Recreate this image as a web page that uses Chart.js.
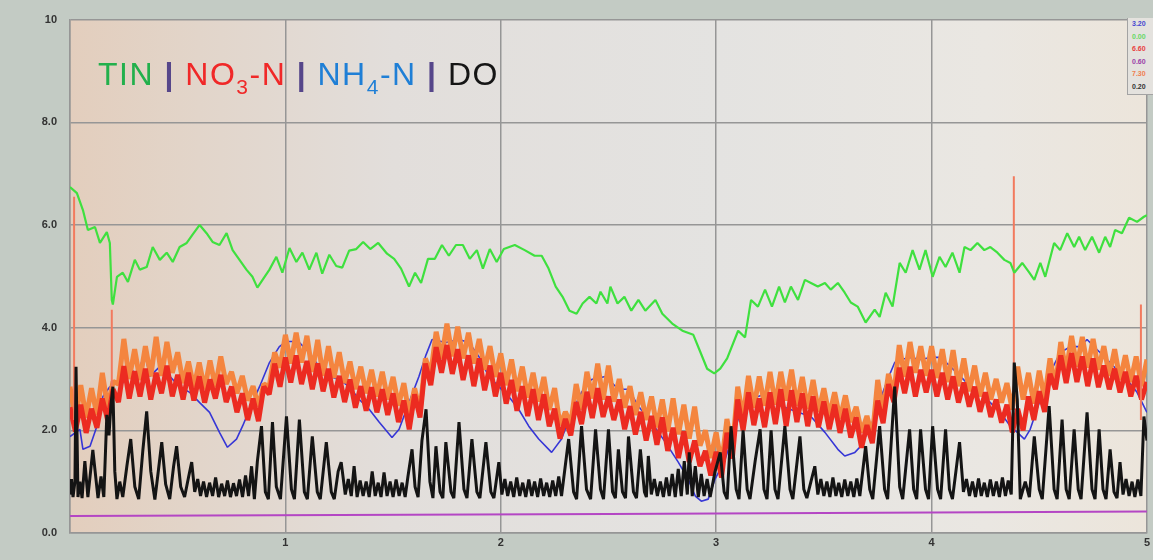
<!DOCTYPE html>
<html>
<head>
<meta charset="utf-8">
<script src="https://cdn.jsdelivr.net/npm/chart.js@4.4.1/dist/chart.umd.min.js"></script>
<style>
html,body{margin:0;padding:0;background:#c3cbc4;}
#wrap{position:relative;width:1153px;height:560px;overflow:hidden;background:#c3cbc4;}
#c{position:absolute;left:0;top:0;}
#title{position:absolute;left:98px;top:54px;font-family:"Liberation Sans",Arial,sans-serif;font-size:32px;line-height:40px;letter-spacing:1.5px;white-space:nowrap;}
#title sub{font-size:21px;vertical-align:baseline;position:relative;top:9px;}
#title .sep{color:#56468a;font-weight:bold;}
#vals{position:absolute;left:1127px;top:18px;width:26px;height:77px;border-left:1px solid #a3a3a3;border-bottom:1px solid #a3a3a3;background:#e4e2de;font-family:"Liberation Sans",Arial,sans-serif;font-weight:bold;font-size:7px;line-height:12.6px;padding-left:4px;box-sizing:border-box;}
</style>
</head>
<body>
<div id="wrap">
<canvas id="c" width="1153" height="560"></canvas>
<div id="title"><span style="color:#22b04c">TIN</span> <span class="sep">|</span> <span style="color:#f02828">NO<sub>3</sub>-N</span> <span class="sep">|</span> <span style="color:#1f7fd6">NH<sub>4</sub>-N</span> <span class="sep">|</span> <span style="color:#151515">DO</span></div>
<div id="vals">
<div style="color:#4646d0">3.20</div>
<div style="color:#66d866">0.00</div>
<div style="color:#e84040">6.60</div>
<div style="color:#9a40a8">0.60</div>
<div style="color:#f08050">7.30</div>
<div style="color:#333">0.20</div>
</div>
</div>
<script>
// ---------- DATA ----------
const xTicks = [1, 2, 3, 4, 5];
const yTicks = [0, 2, 4, 6, 8, 10];

// TIN (green)
const tinX = [
0.000,0.032,0.060,0.083,0.116,0.139,0.171,0.185,0.194,0.199,
0.218,0.245,0.269,0.301,0.324,0.356,0.384,0.417,0.449,0.477,
0.509,0.542,0.569,0.602,0.634,0.662,0.694,0.727,0.755,0.787,
0.819,0.847,0.870,0.894,0.926,0.958,0.986,1.019,1.051,1.079,
1.111,1.144,1.171,1.204,1.236,1.264,1.296,1.329,1.361,1.394,
1.431,1.472,1.505,1.537,1.574,1.602,1.630,1.662,1.694,1.727,
1.759,1.792,1.824,1.856,1.889,1.917,1.949,1.981,2.014,2.065,
2.111,2.157,2.190,2.222,2.255,2.287,2.319,2.352,2.380,2.412,
2.444,2.463,2.495,2.509,2.542,2.574,2.606,2.639,2.671,2.718,
2.750,2.796,2.843,2.894,2.926,2.958,2.991,3.019,3.051,3.102,
3.134,3.162,3.194,3.227,3.259,3.292,3.319,3.347,3.380,3.412,
3.440,3.472,3.505,3.532,3.565,3.597,3.625,3.657,3.694,3.736,
3.759,3.787,3.819,3.852,3.880,3.912,3.944,3.972,4.005,4.037,
4.065,4.097,4.130,4.153,4.181,4.213,4.245,4.273,4.306,4.338,
4.366,4.384,4.421,4.454,4.477,4.505,4.528,4.569,4.597,4.630,
4.662,4.685,4.713,4.745,4.778,4.806,4.829,4.852,4.884,4.917,
4.954,4.986,5.000];
const tinY = [
6.74,6.62,6.29,5.90,5.96,5.65,5.86,5.65,4.54,4.45,
4.99,5.07,4.89,5.32,5.13,5.18,5.57,5.32,5.46,5.28,
5.57,5.65,5.81,6.00,5.84,5.67,5.61,5.84,5.51,5.32,
5.13,4.99,4.78,4.93,5.13,5.38,5.07,5.55,5.28,5.46,
5.13,5.46,5.05,5.42,5.20,5.17,5.50,5.53,5.67,5.53,
5.65,5.44,5.34,5.15,4.80,5.07,4.87,5.34,5.34,5.61,
5.40,5.61,5.61,5.34,5.51,5.15,5.53,5.28,5.53,5.61,
5.51,5.40,5.40,5.15,4.80,4.60,4.33,4.27,4.47,4.60,
4.47,4.70,4.47,4.80,4.47,4.60,4.33,4.54,4.33,4.54,
4.27,4.08,3.94,3.86,3.53,3.20,3.11,3.20,3.40,3.94,
3.81,4.54,4.41,4.74,4.41,4.80,4.49,4.80,4.54,4.93,
4.87,4.80,4.87,4.74,4.87,4.68,4.49,4.41,4.10,4.35,
4.21,4.68,4.41,5.26,5.07,5.51,5.13,5.51,4.99,5.38,
5.18,5.46,5.07,5.57,5.51,5.65,5.51,5.57,5.46,5.32,
5.26,5.07,5.26,5.07,4.93,5.26,4.99,5.65,5.51,5.84,
5.57,5.77,5.51,5.77,5.46,5.77,5.57,5.90,5.84,6.14,
6.06,6.16,6.19];

// NO3-N (red) and second nitrate trace (orange): sampled every bandStep along x
const bandStep = 0.025;
const no3N = [
2.45,1.98,2.50,1.95,2.42,2.05,2.62,2.20,2.80,2.55,
3.25,2.62,3.15,2.66,3.20,2.60,3.12,2.72,3.26,2.66,
3.08,2.60,3.12,2.58,3.05,2.54,2.99,2.62,3.08,2.55,
2.85,2.35,2.72,2.20,2.62,2.18,2.85,2.70,3.30,2.85,
3.42,2.93,3.46,2.90,3.35,2.80,3.30,2.76,3.20,2.64,
3.06,2.55,2.99,2.44,2.86,2.38,2.84,2.35,2.80,2.30,
2.72,2.16,2.58,2.02,2.70,2.25,3.30,2.88,3.62,3.12,
3.66,3.10,3.58,2.98,3.46,2.86,3.40,2.78,3.26,2.66,
3.12,2.52,2.98,2.38,2.86,2.28,2.80,2.20,2.70,2.08,
2.42,1.84,2.22,1.90,2.55,2.12,2.75,2.24,2.82,2.26,
2.66,2.20,2.60,2.02,2.47,1.92,2.36,1.80,2.28,1.72,
2.25,1.60,2.05,1.46,1.98,1.38,1.80,1.30,1.60,1.12,
1.58,1.08,1.95,1.45,2.60,2.00,2.74,2.10,2.62,2.06,
2.74,2.12,2.80,2.08,2.78,2.16,2.72,2.08,2.66,2.06,
2.56,2.02,2.50,1.95,2.42,1.86,2.25,1.66,2.10,1.75,
2.58,2.14,2.90,2.55,3.22,2.72,3.24,2.66,3.18,2.74,
3.18,2.66,3.12,2.60,3.05,2.54,2.93,2.46,2.85,2.36,
2.74,2.26,2.60,2.15,2.50,1.96,2.42,2.00,2.66,2.20,
2.76,2.36,3.10,2.80,3.46,2.92,3.50,2.94,3.44,2.86,
3.40,2.84,3.26,2.80,3.20,2.74,3.14,2.66,3.06,2.60,
2.94];
const no3N2 = [
2.85,2.22,2.88,2.25,2.82,2.30,3.12,2.45,2.95,2.90,
3.78,3.00,3.58,2.98,3.64,3.05,3.82,3.06,3.72,3.12,
3.52,2.92,3.34,2.84,3.32,2.80,3.36,2.84,3.44,2.90,
3.14,2.72,3.06,2.58,2.86,2.46,2.90,2.85,3.52,3.22,
3.86,3.30,3.90,3.32,3.84,3.14,3.76,3.06,3.64,3.02,
3.52,2.92,3.34,2.80,3.24,2.72,3.18,2.66,3.14,2.60,
3.04,2.48,2.92,2.30,2.82,2.36,3.40,3.10,3.92,3.40,
4.08,3.44,4.02,3.40,3.90,3.30,3.78,3.18,3.64,3.04,
3.50,2.88,3.38,2.76,3.24,2.64,3.12,2.56,3.04,2.40,
2.82,2.10,2.36,2.12,2.90,2.40,3.14,2.62,3.30,2.60,
3.26,2.56,3.00,2.44,2.86,2.30,2.74,2.20,2.66,2.06,
2.60,1.98,2.62,1.92,2.50,1.84,2.46,1.70,2.00,1.46,
1.96,1.32,2.22,1.60,2.85,2.24,3.06,2.44,3.05,2.48,
3.14,2.50,3.14,2.58,3.18,2.48,3.04,2.42,2.98,2.36,
2.82,2.28,2.74,2.22,2.68,2.16,2.46,1.96,2.28,1.86,
2.98,2.36,3.10,2.70,3.66,3.04,3.72,3.12,3.64,3.06,
3.64,3.02,3.58,2.94,3.56,2.86,3.40,2.76,3.26,2.66,
3.12,2.60,3.00,2.54,2.92,2.40,3.24,2.60,3.12,2.52,
3.16,2.62,3.40,2.86,3.72,3.14,3.84,3.24,3.82,3.22,
3.78,3.18,3.64,3.06,3.58,2.98,3.46,2.94,3.44,2.86,
3.38];

// single-sample spikes of the nitrate trace
const spikeX = [0.019, 0.194, 4.382, 4.972];
const spikeLow = [2.20, 2.80, 2.40, 2.20];
const spikeHigh = [6.55, 4.35, 6.95, 4.45];

// NH4-N (blue)
const nh4X = [
0.000,0.046,0.060,0.093,0.125,0.153,0.185,0.218,0.245,0.278,
0.310,0.347,0.370,0.417,0.463,0.509,0.556,0.602,0.648,0.694,
0.731,0.773,0.801,0.847,0.880,0.926,0.972,1.005,1.032,1.065,
1.111,1.157,1.204,1.250,1.296,1.343,1.389,1.435,1.495,1.528,
1.574,1.620,1.653,1.681,1.745,1.806,1.852,1.898,1.944,1.991,
2.037,2.083,2.130,2.176,2.236,2.282,2.329,2.375,2.421,2.486,
2.546,2.593,2.639,2.699,2.764,2.824,2.870,2.903,2.931,2.963,
2.995,3.042,3.102,3.148,3.194,3.241,3.287,3.380,3.440,3.505,
3.565,3.597,3.644,3.671,3.718,3.750,3.796,3.829,3.856,3.903,
3.949,3.995,4.042,4.088,4.134,4.181,4.227,4.273,4.319,4.366,
4.398,4.431,4.458,4.505,4.551,4.597,4.644,4.690,4.722,4.769,
4.815,4.861,4.907,4.954,5.000];
const nh4Y = [
1.88,2.02,1.63,1.69,2.08,2.66,2.85,2.60,2.93,3.24,
3.05,3.51,3.05,3.24,3.05,2.85,2.74,2.54,2.35,1.96,
1.67,1.83,2.08,2.54,2.85,3.32,3.63,3.73,3.73,3.71,
3.51,3.24,3.05,2.99,2.85,2.60,2.41,2.16,1.86,2.02,
2.54,3.05,3.47,3.77,3.71,3.77,3.71,3.44,3.05,2.85,
2.66,2.41,2.08,1.83,1.57,1.83,2.35,2.74,2.99,3.05,
2.80,2.80,2.47,2.16,1.77,1.38,1.05,0.72,0.62,0.66,
1.05,1.44,2.21,2.54,2.66,2.72,2.50,2.35,2.27,1.96,
1.63,1.50,1.57,1.69,2.08,2.47,2.99,3.32,3.38,3.42,
3.38,3.42,3.42,3.24,3.05,2.85,2.74,2.54,2.35,2.08,
1.96,1.83,2.02,2.60,3.13,3.51,3.63,3.63,3.77,3.57,
3.38,3.18,2.99,2.74,2.35];

// DO (black)
const doX = [
0.000,0.007,0.014,0.023,0.028,0.037,0.046,0.056,0.069,0.083,
0.106,0.130,0.144,0.157,0.171,0.181,0.190,0.199,0.208,0.218,
0.231,0.245,0.264,0.282,0.301,0.319,0.338,0.356,0.375,0.394,
0.407,0.426,0.444,0.463,0.481,0.495,0.514,0.532,0.551,0.565,
0.579,0.593,0.606,0.620,0.634,0.648,0.662,0.676,0.690,0.704,
0.718,0.731,0.745,0.759,0.773,0.787,0.801,0.815,0.829,0.843,
0.856,0.870,0.889,0.907,0.921,0.940,0.958,0.977,1.005,1.028,
1.042,1.065,1.088,1.102,1.125,1.148,1.162,1.190,1.213,1.227,
1.245,1.259,1.278,1.292,1.306,1.319,1.333,1.347,1.361,1.375,
1.389,1.403,1.417,1.431,1.444,1.458,1.472,1.486,1.500,1.514,
1.528,1.542,1.556,1.569,1.588,1.602,1.616,1.634,1.653,1.671,
1.685,1.699,1.718,1.731,1.745,1.769,1.782,1.806,1.829,1.843,
1.866,1.889,1.903,1.931,1.954,1.968,1.991,2.005,2.019,2.032,
2.046,2.060,2.074,2.088,2.102,2.116,2.130,2.144,2.157,2.171,
2.185,2.199,2.213,2.227,2.241,2.255,2.269,2.282,2.315,2.338,
2.352,2.375,2.398,2.417,2.440,2.463,2.477,2.500,2.519,2.532,
2.546,2.565,2.579,2.593,2.616,2.630,2.648,2.667,2.676,2.685,
2.699,2.713,2.727,2.741,2.755,2.769,2.782,2.796,2.810,2.824,
2.838,2.852,2.866,2.875,2.889,2.903,2.917,2.931,2.944,2.958,
2.972,2.995,3.019,3.037,3.051,3.069,3.093,3.106,3.125,3.144,
3.157,3.181,3.204,3.222,3.236,3.255,3.273,3.287,3.319,3.343,
3.356,3.389,3.407,3.421,3.440,3.458,3.472,3.486,3.500,3.514,
3.528,3.542,3.556,3.569,3.583,3.597,3.611,3.625,3.639,3.653,
3.667,3.694,3.713,3.727,3.759,3.782,3.796,3.829,3.852,3.866,
3.898,3.917,3.931,3.949,3.972,3.986,4.005,4.028,4.042,4.065,
4.083,4.097,4.130,4.148,4.162,4.176,4.190,4.204,4.218,4.231,
4.245,4.259,4.273,4.287,4.301,4.315,4.329,4.343,4.356,4.370,
4.384,4.398,4.412,4.435,4.454,4.477,4.500,4.514,4.546,4.569,
4.583,4.606,4.625,4.639,4.662,4.681,4.694,4.722,4.745,4.759,
4.778,4.796,4.810,4.829,4.847,4.861,4.875,4.889,4.903,4.917,
4.931,4.944,4.958,4.972,4.986,5.000];
const doY = [
0.75,1.05,0.70,1.00,3.24,0.70,1.00,0.68,1.40,0.70,
1.62,0.68,1.10,0.70,2.30,1.90,2.50,2.85,1.20,0.66,
1.00,0.70,1.30,1.83,0.90,0.66,1.60,2.37,1.20,0.65,
1.10,1.77,0.95,0.66,1.30,1.69,0.90,0.70,1.10,1.38,
0.80,1.05,0.72,1.00,0.70,0.98,0.72,1.08,0.70,0.96,
0.72,1.02,0.70,0.97,0.72,1.04,0.70,1.12,0.72,1.30,
0.66,1.40,2.08,0.80,0.66,2.16,0.90,0.66,2.27,0.85,
0.66,2.21,0.80,0.66,1.88,0.80,0.66,1.77,0.80,0.66,
1.20,1.38,0.75,1.05,0.72,1.30,0.70,1.02,0.72,1.00,
0.70,1.20,0.72,0.98,0.70,1.18,0.72,1.00,0.70,1.04,
0.72,0.98,0.70,1.10,1.63,0.90,0.70,1.80,2.41,1.00,
0.68,1.69,0.80,0.68,1.77,0.80,0.68,2.16,0.85,0.68,
1.83,0.80,0.68,1.77,0.80,0.68,1.38,0.75,1.05,0.72,
1.00,0.70,1.08,0.72,0.98,0.70,1.04,0.72,1.00,0.70,
1.06,0.72,0.98,0.70,1.02,0.72,1.10,0.72,1.83,0.80,
0.66,2.08,0.85,0.66,2.02,0.85,0.66,2.02,0.80,0.68,
1.63,0.80,0.68,1.88,0.80,0.68,1.63,0.80,0.70,1.50,
0.75,1.05,0.72,1.00,0.70,1.08,0.72,1.15,0.70,1.25,
0.72,1.40,0.75,1.57,0.72,1.30,0.70,1.15,0.72,1.05,
0.70,1.20,1.57,0.80,0.66,2.08,0.85,0.66,2.00,0.85,
0.66,1.40,2.02,0.85,0.66,2.00,0.85,0.66,2.08,0.85,
0.66,1.88,0.85,0.68,1.00,1.30,0.75,1.05,0.72,1.00,
0.70,1.08,0.72,0.98,0.70,1.04,0.72,1.00,0.70,1.06,
0.72,1.69,0.85,0.66,2.08,0.85,0.66,2.85,0.90,0.66,
2.02,0.85,0.66,2.02,0.85,0.66,2.08,0.85,0.66,2.02,
0.85,0.66,1.77,0.80,1.05,0.72,1.00,0.70,1.06,0.72,
0.98,0.70,1.04,0.72,1.00,0.70,1.08,0.72,1.02,0.75,
3.32,2.60,0.66,1.00,0.70,1.88,0.85,0.66,2.47,0.85,
0.66,2.21,0.85,0.66,2.02,0.85,0.66,2.35,0.85,0.66,
2.02,0.85,0.66,1.63,0.80,0.68,1.38,0.75,1.05,0.72,
1.00,0.70,1.04,0.72,2.27,1.80];

// reference trace (magenta, near bottom)
const refX = [0, 2.5, 5];
const refY = [0.33, 0.37, 0.42];

// ---------- BUILD ----------
function pairs(xs, ys) { const n = Math.min(xs.length, ys.length); const out = []; for (let i = 0; i < n; i++) out.push({x: xs[i], y: ys[i]}); return out; }
const tinData = pairs(tinX, tinY);
const no3Data = no3N.map((y, i) => ({x: +(i * bandStep).toFixed(4), y}));
const no3bData = no3N2.map((y, i) => ({x: +(i * bandStep).toFixed(4), y}));
const spikeData = [];
spikeX.forEach((x, i) => { spikeData.push({x, y: spikeLow[i]}, {x, y: spikeHigh[i]}, {x, y: null}); });
const nh4Data = pairs(nh4X, nh4Y);
const doData = pairs(doX, doY);
const refData = pairs(refX, refY);

const bgPlugin = {
  id: 'plotBg',
  beforeDraw(chart) {
    const {ctx, chartArea: a} = chart;
    const g = ctx.createLinearGradient(a.left, 0, a.right, 0);
    g.addColorStop(0, '#e3cebd');
    g.addColorStop(0.12, '#e2d5ca');
    g.addColorStop(0.3, '#e2dedb');
    g.addColorStop(0.6, '#e4e3e1');
    g.addColorStop(0.85, '#eae7e2');
    g.addColorStop(1, '#ece5db');
    ctx.save();
    ctx.fillStyle = g;
    ctx.fillRect(a.left, a.top, a.right - a.left, a.bottom - a.top);
    ctx.restore();
  }
};

const tickFont = {family: '"Liberation Sans", Arial, sans-serif', size: 11, weight: 'bold'};
const gridColor = '#969696';

new Chart(document.getElementById('c'), {
  type: 'line',
  data: {
    datasets: [
      {label: 'DO', data: doData, borderColor: '#141414', borderWidth: 3},
      {label: 'TIN', data: tinData, borderColor: '#3fe03f', borderWidth: 2.2},
      {label: 'NO3-N spikes', data: spikeData, borderColor: '#f27a5e', borderWidth: 2, spanGaps: false},
      {label: 'NO3-N', data: no3Data, borderColor: '#ec2b21', borderWidth: 5},
      {label: 'NO3-N (2)', data: no3bData, borderColor: '#f4853f', borderWidth: 5},
      {label: 'NH4-N', data: nh4Data, borderColor: '#3636d6', borderWidth: 1.6},
      {label: 'Ref', data: refData, borderColor: '#b446c4', borderWidth: 2}
    ]
  },
  options: {
    responsive: false,
    animation: false,
    devicePixelRatio: 1,
    parsing: false,
    elements: {
      point: {radius: 0, hoverRadius: 0},
      line: {tension: 0, borderJoinStyle: 'bevel', fill: false}
    },
    layout: {padding: {left: 0, right: 3, top: 19, bottom: 0}},
    plugins: {legend: {display: false}, tooltip: {enabled: false}, title: {display: false}},
    scales: {
      x: {
        type: 'linear', min: 0, max: 5,
        afterBuildTicks(s) { s.ticks = [0].concat(xTicks).map(v => ({value: v})); },
        ticks: {padding: 3, color: '#333', font: tickFont, maxRotation: 0, autoSkip: false,
          callback: v => (v === 0 ? '' : String(v))},
        grid: {color: gridColor, lineWidth: 1.5, drawTicks: false},
        border: {display: true, color: gridColor, width: 1.5},
        afterFit(s) { s.height = 27; }
      },
      y: {
        type: 'linear', min: 0, max: 10,
        afterBuildTicks(s) { s.ticks = yTicks.map(v => ({value: v})); },
        ticks: {padding: 13, color: '#333', font: tickFont,
          callback: v => (v === 10 ? '10' : Number(v).toFixed(1))},
        grid: {color: gridColor, lineWidth: 1.5, drawTicks: false},
        border: {display: true, color: gridColor, width: 1.5},
        afterFit(s) { s.width = 70; }
      }
    }
  },
  plugins: [bgPlugin]
});
</script>
</body>
</html>
